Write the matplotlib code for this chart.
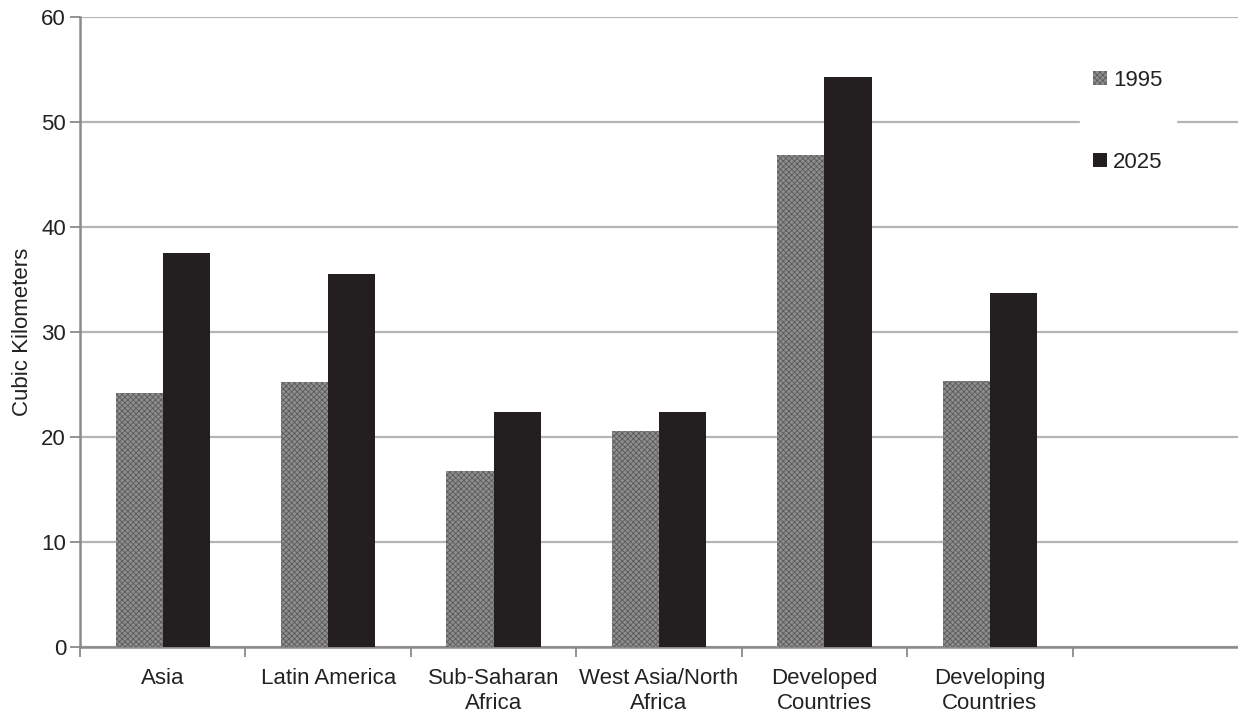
import matplotlib
matplotlib.use("Agg")
import matplotlib.pyplot as plt
import numpy as np

categories = ["Asia", "Latin America", "Sub-Saharan\nAfrica", "West Asia/North\nAfrica",
              "Developed\nCountries", "Developing\nCountries"]
series_names = ["1995", "2025"]
values_1995 = [24.2, 25.2, 16.7, 20.5, 46.8, 25.3]
values_2025 = [37.5, 35.5, 22.4, 22.4, 54.3, 33.7]
y_ticks = [0, 10, 20, 30, 40, 50, 60]

plt.rcParams['font.family'] = ['Liberation Sans', 'DejaVu Sans']
plt.rcParams['hatch.linewidth'] = 0.6

fig = plt.figure(figsize=(12.38, 7.13), dpi=100)
ax = fig.add_axes([80/1238, (713-646.7)/713, 1-80/1238, (646.7-16.7)/713])

x = np.arange(len(categories))
w = 0.285
grey = '#8e8e8e'
black = '#231f20'
b1 = ax.bar(x - w/2, values_1995, width=w, color=grey, edgecolor='#5a5a5a',
            hatch='xxxxxx', linewidth=0, label=series_names[0], zorder=3)
b2 = ax.bar(x + w/2, values_2025, width=w, color=black, linewidth=0,
            label=series_names[1], zorder=3)

ax.set_xlim(-0.5, 6.5)
ax.set_ylim(0, 60)
ax.set_yticks(y_ticks)
ax.yaxis.grid(True, color='#b5b5b5', linewidth=1.6, zorder=0)
ax.set_axisbelow(True)

fs = 16
ax.set_xticks(np.arange(-0.5, len(categories), 1.0))
ax.set_xticklabels([])
ax.set_xticks(x, minor=True)
ax.set_xticklabels(categories, minor=True, fontsize=fs, color='#222222', linespacing=1.28)
ax.tick_params(axis='x', which='minor', length=0, pad=15)
ax.tick_params(axis='x', which='major', length=7, width=1.3, color='#8a8a8a', direction='out')
ax.tick_params(axis='y', length=7, width=1.3, color='#8a8a8a', labelsize=fs,
               labelcolor='#222222', pad=3)

for s in ['top', 'right']:
    ax.spines[s].set_visible(False)
for s in ['left', 'bottom']:
    ax.spines[s].set_color('#8a8a8a')
    ax.spines[s].set_linewidth(1.8)

ax.set_ylabel("Cubic Kilometers", fontsize=fs, color='#222222', labelpad=6)

leg = fig.legend(handles=[b1, b2], labels=series_names, loc='center',
                 bbox_to_anchor=(1128/1238, 1-121.5/713), frameon=True,
                 fontsize=fs, handlelength=0.6, handleheight=0.6,
                 handletextpad=0.3, labelspacing=2.75, borderpad=0.6,
                 borderaxespad=0)
leg.get_frame().set_facecolor('white')
leg.get_frame().set_edgecolor('white')
leg.get_frame().set_alpha(1)
leg.get_frame().set_boxstyle('square', pad=0)
for t in leg.get_texts():
    t.set_color('#222222')

fig.savefig("out.png", dpi=100, facecolor='white')
